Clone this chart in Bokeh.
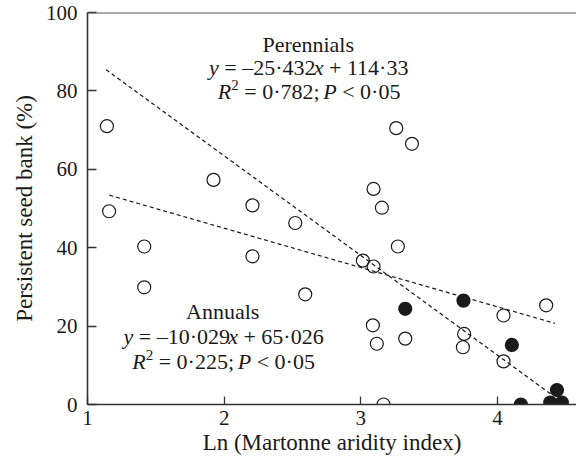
from bokeh.plotting import figure
from bokeh.models import Range1d, FixedTicker, Label, Span, InlineStyleSheet
from bokeh.embed import file_html
from bokeh.resources import INLINE

# ---------------- data ----------------
open_x = [1.142, 1.158, 1.415, 1.415, 1.922, 2.207, 2.207, 2.520, 2.593,
          3.015, 3.093, 3.093, 3.154, 3.259, 3.374, 3.271, 3.088, 3.117,
          3.325, 3.166, 3.756, 3.747, 4.044, 4.044, 4.356]
open_y = [71.0, 49.3, 40.3, 29.9, 57.3, 50.8, 37.8, 46.3, 28.1,
          36.7, 35.2, 55.0, 50.2, 70.5, 66.5, 40.3, 20.2, 15.5,
          16.8, 0.0, 18.0, 14.6, 22.7, 11.0, 25.3]

filled_x = [3.325, 3.751, 4.105, 4.171, 4.435, 4.386, 4.471]
filled_y = [24.4, 26.5, 15.2, 0.0, 3.7, 0.5, 0.5]

# fitted lines (end points)
per_line_x = [1.136, 4.40]
per_line_y = [85.4, 2.4]
ann_line_x = [1.16, 4.42]
ann_line_y = [53.4, 20.7]

x_ticks = [1, 2, 3, 4]
y_ticks = [0, 20, 40, 60, 80, 100]
x_label = "Ln (Martonne aridity index)"
y_label = "Persistent seed bank (%)"

per_title = "Perennials"
per_eq = [("y", True, 1.0, 0), (" = –25·432", False, 1.0, 0), ("x", True, 1.0, 0), (" + 114·33", False, 1.0, 0)]
per_stat = [("R", True, 1.0, 0), ("2", False, 0.68, 7), (" = 0·782; ", False, 1.0, 0), ("P", True, 1.0, 0), (" < 0·05", False, 1.0, 0)]
ann_title = "Annuals"
ann_eq = [("y", True, 1.0, 0), (" = –10·029", False, 1.0, 0), ("x", True, 1.0, 0), (" + 65·026", False, 1.0, 0)]
ann_stat = [("R", True, 1.0, 0), ("2", False, 0.68, 7), (" = 0·225; ", False, 1.0, 0), ("P", True, 1.0, 0), (" < 0·05", False, 1.0, 0)]

# ---------------- styling ----------------
FONT = "'Liberation Serif'"
AXIS_FONT = "Liberation Serif"
F = 22
INK = "#1a1a1a"
AX = "#333333"
FIX = 4.5   # baseline correction (screen px, up)

p = figure(width=576, height=461, output_backend="svg", toolbar_location=None,
           x_range=Range1d(1, 4.578), y_range=Range1d(0, 100),
           min_border_left=87, min_border_right=0, min_border_top=12, min_border_bottom=57)
p.stylesheets = [InlineStyleSheet(css="text, svg text, :host text { font-family: 'Liberation Serif', serif !important; }")]
p.outline_line_color = None
p.xgrid.visible = False
p.ygrid.visible = False
p.background_fill_color = "white"

for ax, ticks in ((p.xaxis[0], x_ticks), (p.yaxis[0], y_ticks)):
    ax.ticker = FixedTicker(ticks=ticks)
    ax.axis_line_color = AX
    ax.axis_line_width = 1.6
    ax.major_tick_line_color = AX
    ax.major_tick_line_width = 1.3
    ax.major_tick_out = 0
    ax.minor_tick_line_color = None
    ax.major_label_text_font = AXIS_FONT
    ax.major_label_text_font_size = "21px"
    ax.major_label_text_color = INK
    ax.axis_label_text_font = AXIS_FONT
    ax.axis_label_text_font_size = "23px"
    ax.axis_label_text_font_style = "normal"
    ax.axis_label_text_color = INK

p.xaxis.major_tick_in = 8
p.yaxis.major_tick_in = 9
p.xaxis.major_label_standoff = 6
p.yaxis.major_label_standoff = 10
p.xaxis.axis_label_standoff = 2
p.yaxis.axis_label_standoff = 6
p.xaxis.axis_label = x_label
p.yaxis.axis_label = y_label

p.add_layout(Span(location=100, dimension="width", line_color="#555555", line_width=1.8))

# points and lines
p.scatter(open_x, open_y, size=13, marker="circle", fill_color=None, line_color=INK, line_width=1.2)
p.line(per_line_x, per_line_y, line_color=INK, line_width=1.2, line_dash="4 3")
p.line(ann_line_x, ann_line_y, line_color=INK, line_width=1.2, line_dash="4 3")
p.scatter(filled_x, filled_y, size=13, marker="circle", fill_color=INK, line_color=INK, line_width=1.2)


def lab(**kw):
    base = dict(text_font=FONT, text_color=INK, text_baseline="alphabetic")
    base.update(kw)
    p.add_layout(Label(**base))


# ---------------- annotations ----------------
W = {' ': .25, '=': .564, '+': .564, '<': .564, '–': .5, '·': .25, ';': .278,
     'y': .444, 'x': .444, 'R': .611, 'P': .611}
for d in "0123456789":
    W[d] = .5


def add_rich(xc, yb, pieces):
    widths = [sum(W[c] for c in t) * F * s for t, it, s, r in pieces]
    cur = -sum(widths) / 2
    for (t, it, s, r), w in zip(pieces, widths):
        lead = len(t) - len(t.lstrip(" "))
        lab(x=xc, y=yb, x_offset=cur + lead * W[' '] * F * s, y_offset=r + FIX,
            text=t.strip(" "), text_font_style="italic" if it else "normal",
            text_font_size=f"{round(F * s)}px", text_align="left")
        cur += w


def add_title(xc, yb, t):
    lab(x=xc, y=yb, y_offset=FIX, text=t, text_font_size=f"{F}px", text_align="center")


PER_X, ANN_X = 2.615, 1.989
add_title(PER_X, 90.7, per_title)
add_rich(PER_X, 84.7, per_eq)
add_rich(PER_X, 78.6, per_stat)
add_title(ANN_X, 22.7, ann_title)
add_rich(ANN_X, 16.2, ann_eq)
add_rich(ANN_X, 9.7, ann_stat)

open("out.html", "w").write(file_html(p, INLINE))
